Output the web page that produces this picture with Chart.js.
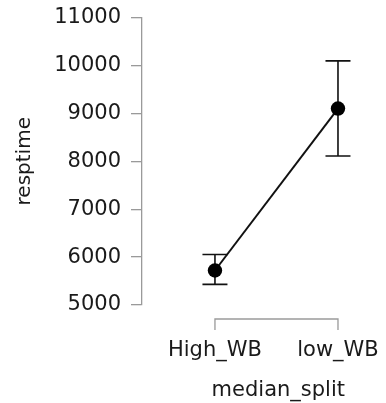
<!DOCTYPE html>
<html>
<head>
<meta charset="utf-8">
<script src="https://cdn.jsdelivr.net/npm/chart.js@4"></script>
<style>
  html, body { margin: 0; padding: 0; background: #fff; }
  #wrap { width: 386px; height: 403px; }
</style>
</head>
<body>
<div id="wrap"><canvas id="chart"></canvas></div>
<script>
const CATEGORIES = ["High_WB", "low_WB"];
const MEANS = [5720, 9100];
const CI_LOWER = [5430, 8110];
const CI_UPPER = [6055, 10095];
const Y_TICKS = [5000, 6000, 7000, 8000, 9000, 10000, 11000];

const AXIS_COLOR = "#9a9a9a";
const TEXT_COLOR = "#1a1a1a";
const FONT = "'DejaVu Sans', Verdana, sans-serif";

// whiskers behind the points, bracket-style x axis under the plot
const errorBars = {
  id: "errorBars",
  beforeDatasetsDraw(chart) {
    const { ctx, scales: { x, y } } = chart;
    ctx.save();
    ctx.strokeStyle = "#111";
    ctx.lineWidth = 1.6;
    CATEGORIES.forEach((_, i) => {
      const px = x.getPixelForValue(i);
      const top = y.getPixelForValue(CI_UPPER[i]);
      const bottom = y.getPixelForValue(CI_LOWER[i]);
      ctx.beginPath();
      ctx.moveTo(px, top); ctx.lineTo(px, bottom);
      ctx.moveTo(px - 12.5, top); ctx.lineTo(px + 12.5, top);
      ctx.moveTo(px - 12.5, bottom); ctx.lineTo(px + 12.5, bottom);
      ctx.stroke();
    });
    ctx.restore();
  },
  afterDraw(chart) {
    const { ctx, chartArea, scales: { x } } = chart;
    const x0 = x.getPixelForValue(0);
    const x1 = x.getPixelForValue(CATEGORIES.length - 1);
    const yLine = chartArea.bottom + 14;
    ctx.save();
    ctx.strokeStyle = AXIS_COLOR;
    ctx.lineWidth = 1.3;
    ctx.beginPath();
    ctx.moveTo(x0, yLine + 11); ctx.lineTo(x0, yLine);
    ctx.lineTo(x1, yLine); ctx.lineTo(x1, yLine + 11);
    ctx.stroke();
    ctx.restore();
  }
};

new Chart(document.getElementById("chart"), {
  type: "line",
  data: {
    datasets: [{
      data: MEANS.map((v, i) => ({ x: i, y: v })),
      borderColor: "#111",
      backgroundColor: "#000",
      borderWidth: 2,
      pointRadius: 7.2,
      pointBorderWidth: 0,
      pointBackgroundColor: "#000",
      tension: 0,
      clip: false
    }]
  },
  options: {
    responsive: true,
    maintainAspectRatio: false,
    animation: false,
    layout: { padding: { top: 17.5, right: 41, bottom: 0, left: 0 } },
    plugins: { legend: { display: false }, tooltip: { enabled: false } },
    scales: {
      x: {
        type: "linear",
        min: -0.593,
        max: 1.057,
        afterFit: scale => {
          scale.height = 98;
          scale.paddingLeft = 0;
          scale.paddingRight = 0;
        },
        afterBuildTicks: scale => { scale.ticks = CATEGORIES.map((_, i) => ({ value: i })); },
        border: { display: false },
        grid: { display: false, drawTicks: false },
        ticks: {
          callback: value => CATEGORIES[value],
          padding: 33,
          maxRotation: 0,
          autoSkip: false,
          color: TEXT_COLOR,
          font: { family: FONT, size: 21 }
        },
        title: {
          display: true,
          text: "median_split",
          align: "end",
          color: TEXT_COLOR,
          font: { family: FONT, size: 21 },
          padding: { top: 0, bottom: 0 }
        }
      },
      y: {
        min: 5000,
        max: 11000,
        afterFit: scale => {
          scale.width = 142;
          scale.paddingTop = 0;
          scale.paddingBottom = 0;
        },
        afterBuildTicks: scale => { scale.ticks = Y_TICKS.map(v => ({ value: v })); },
        border: { display: true, color: AXIS_COLOR, width: 1.3 },
        grid: { display: true, drawOnChartArea: false, drawTicks: true, tickLength: 11, color: AXIS_COLOR, lineWidth: 1.3 },
        ticks: {
          callback: value => String(value),
          padding: 10,
          color: TEXT_COLOR,
          font: { family: FONT, size: 21 }
        },
        title: {
          display: true,
          text: "resptime",
          color: TEXT_COLOR,
          font: { family: FONT, size: 20 },
          padding: { top: 13, bottom: 0 }
        }
      }
    }
  },
  plugins: [errorBars]
});
</script>
</body>
</html>
